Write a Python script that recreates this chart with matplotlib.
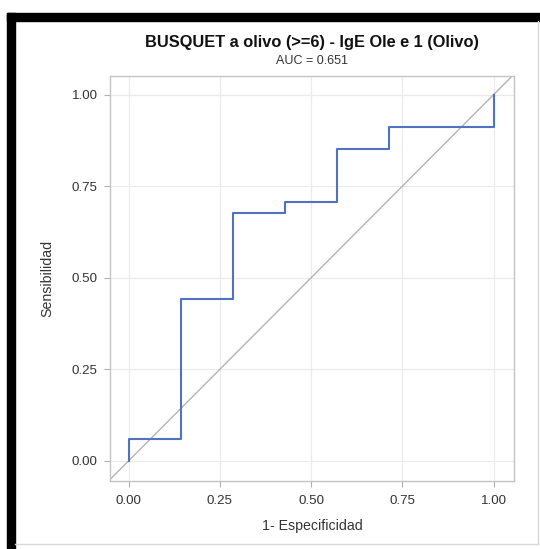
import matplotlib
matplotlib.use("Agg")
import matplotlib.pyplot as plt
from matplotlib.patches import Rectangle

# ROC steps (1 - specificity, sensitivity)
fpr = [0.0, 0.0, 0.143, 0.143, 0.286, 0.286, 0.429, 0.429, 0.571, 0.571, 0.714, 0.714, 1.0, 1.0]
tpr = [0.0, 0.059, 0.059, 0.441, 0.441, 0.676, 0.676, 0.706, 0.706, 0.853, 0.853, 0.912, 0.912, 1.0]
ticks = [0.0, 0.25, 0.50, 0.75, 1.00]
tick_labels = ["0.00", "0.25", "0.50", "0.75", "1.00"]
title = "BUSQUET a olivo (>=6) - IgE Ole e 1 (Olivo)"
subtitle = "AUC = 0.651"

plt.rcParams["font.family"] = ["Liberation Sans", "DejaVu Sans"]

W, H = 540, 549
fig = plt.figure(figsize=(W / 100, H / 100), dpi=100)

# screenshot frame: black bars top / left, thin gray edges right / bottom
fig.patches.append(Rectangle((7 / W, 0), 8 / W, 1 - 13 / H, transform=fig.transFigure,
                             color="black", zorder=0))
fig.patches.append(Rectangle((7 / W, 1 - 21 / H), 1 - 7 / W, 8 / H, transform=fig.transFigure,
                             color="black", zorder=0))
fig.lines.append(plt.Line2D([538 / W, 538 / W], [1 - 544 / H, 1 - 21 / H], transform=fig.transFigure,
                            color="#d8d8d8", lw=1))
fig.lines.append(plt.Line2D([15 / W, 538 / W], [1 - 544 / H, 1 - 544 / H], transform=fig.transFigure,
                            color="#d8d8d8", lw=1))

L, R, T, B = 110, 514, 76, 481
ax = fig.add_axes([L / W, 1 - B / H, (R - L) / W, (B - T) / H])
ax.set_xlim(-0.051, 1.056)
ax.set_ylim(-0.055, 1.051)

ax.plot([-0.06, 1.06], [-0.06, 1.06], color="#b4b4b4", lw=1.0, zorder=2)
ax.plot(fpr, tpr, color="#4f72c2", lw=1.5, zorder=3)

ax.set_xticks(ticks)
ax.set_xticklabels(tick_labels)
ax.set_yticks(ticks)
ax.set_yticklabels(tick_labels)
ax.grid(True, color="#ebebeb", lw=0.9)
ax.set_axisbelow(True)
for s in ax.spines.values():
    s.set_color("#c4c4c4")
    s.set_linewidth(1.0)
ax.tick_params(axis="both", length=4.5, width=0.8, color="#b0b0b0",
               labelcolor="#333333", labelsize=9.6)
ax.tick_params(axis="x", pad=5.4)
ax.tick_params(axis="y", pad=4.3)

cx = (L + R) / 2 / W
fig.text(cx, 1 - 526 / H, "1- Especificidad", ha="center", va="center", fontsize=10.2,
         color="#333333")
fig.text(47 / W, 1 - (T + B) / 2 / H, "Sensibilidad", ha="center", va="center", rotation=90,
         fontsize=10.2, color="#333333")
fig.text(cx, 1 - 42.7 / H, title, ha="center", va="center", fontsize=11.8, fontweight="bold",
         color="#111111")
fig.text(cx, 1 - 60.7 / H, subtitle, ha="center", va="center", fontsize=9, color="#333333")

fig.savefig("out.png", dpi=100)
